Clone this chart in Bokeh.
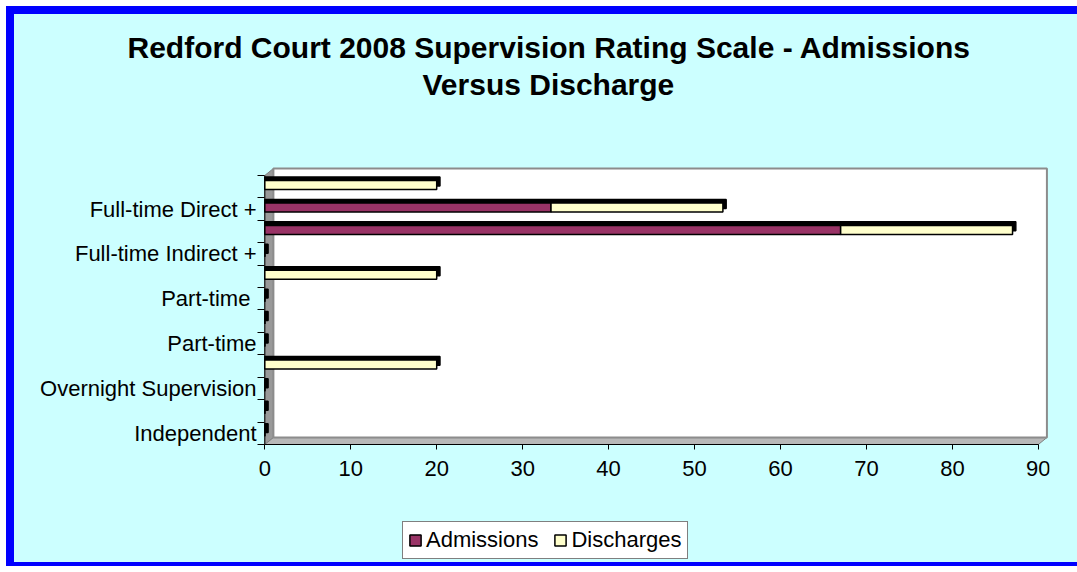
from bokeh.plotting import figure
from bokeh.models import Range1d, FixedTicker, Legend, LegendItem, Title
from bokeh.embed import file_html
from bokeh.resources import INLINE

# ---------------- data ----------------
title_lines = ["Redford Court 2008 Supervision Rating Scale - Admissions", "Versus Discharge"]
# rows from top to bottom (every other label is hidden in the original chart)
row_labels = ["", "Full-time Direct +", "", "Full-time Indirect +", "", "Part-time ",
              "", "Part-time", "", "Overnight Supervision", "", "Independent"]
admissions = [0, 33.3, 67, 0, 0, 0, 0, 0, 0, 0, 0, 0]
discharges = [20, 20, 20, 0, 20, 0, 0, 0, 20, 0, 0, 0]
series_names = ["Admissions", "Discharges"]
series_colors = ["#993366", "#FFFFCC"]
x_ticks = [0, 10, 20, 30, 40, 50, 60, 70, 80, 90]

# ---------------- styling constants ----------------
FONT = "Liberation Sans"
CYAN = "#CCFFFF"
W, H = 1077, 566
FRAME_LEFT, FRAME_RIGHT_PAD, FRAME_TOP = 257, 28, 103
X_START = -0.85
AXIS_Y_PX = 444                     # canvas y of the category-axis floor
ROW_PX = 22.42
n = len(row_labels)
ypos = [n - i for i in range(n)]
y_floor = 0.5
y_top = n + 0.5
xmax = x_ticks[-1]
wall_dx, wall_dy = 1.0, 0.31        # depth of the 3-D walls (data units)
bar_dx, bar_dy = 0.38, 0.16         # depth of the 3-D bars
bar_yoff, bar_h = 0.07, 0.40
y_start = y_floor - (H - AXIS_Y_PX) / ROW_PX
y_end = y_floor + (AXIS_Y_PX - FRAME_TOP) / ROW_PX

p = figure(width=W, height=H, output_backend="svg", toolbar_location=None, title=None,
           x_axis_location="above",
           x_range=Range1d(X_START, xmax + 1.3), y_range=Range1d(y_start, y_end),
           min_border_left=FRAME_LEFT, min_border_right=FRAME_RIGHT_PAD,
           min_border_top=FRAME_TOP, min_border_bottom=0)
p.background_fill_color = CYAN
p.background_fill_alpha = 0.0
p.border_fill_color = CYAN
p.border_fill_alpha = 0.0
p.outline_line_color = None
p.xgrid.visible = False
p.ygrid.visible = False
p.styles = {"background-color": CYAN,
            "box-shadow": "inset 6px 6px 0 0 #FFFFFF, inset 14px 14px 0 0 #0000FF, "
                          "inset 0 -4px 0 0 #0000FF"}

# ---------------- 3-D walls ----------------
p.patch([0, 0, wall_dx, wall_dx], [y_floor, y_top, y_top + wall_dy, y_floor + wall_dy],
        fill_color="#999999", line_color="#808080", line_width=1)
p.patch([0, xmax, xmax + wall_dx, wall_dx], [y_floor, y_floor, y_floor + wall_dy, y_floor + wall_dy],
        fill_color="#B8B8B8", line_color="#808080", line_width=1)
p.quad(left=[wall_dx], right=[xmax + wall_dx], bottom=[y_floor + wall_dy], top=[y_top + wall_dy],
       fill_color="white", line_color="#8C8C8C", line_width=2)
# category-axis line along the front edge of the left wall
p.segment(x0=[0], y0=[y_floor], x1=[0], y1=[y_top], line_color="black", line_width=1)

# ---------------- bars ----------------
totals = [a + d for a, d in zip(admissions, discharges)]
yb = [y + bar_yoff for y in ypos]
p.hbar(y=[y + bar_dy for y in yb], left=[0] * n, right=[t + bar_dx for t in totals],
       height=bar_h, fill_color="black", line_color="black", line_width=1.5)
r_adm = p.hbar(y=yb, left=[0] * n, right=admissions, height=bar_h,
               fill_color=series_colors[0], line_color="black", line_width=1.5)
r_dis = p.hbar(y=yb, left=admissions, right=totals, height=bar_h,
               fill_color=series_colors[1], line_color="black", line_width=1.5)

# ---------------- axes ----------------
xa = p.xaxis[0]
xa.fixed_location = y_floor
xa.ticker = FixedTicker(ticks=x_ticks, minor_ticks=[])
xa.bounds = (0, xmax)
xa.axis_line_color = "black"
xa.major_tick_out = 0
xa.major_tick_in = 5
xa.major_label_standoff = -31
xa.major_label_text_font = FONT
xa.major_label_text_font_size = "22px"
xa.major_label_text_color = "black"

ya = p.yaxis[0]
ya.ticker = FixedTicker(ticks=ypos, minor_ticks=[i + 0.5 for i in range(n + 1)])
ya.major_label_overrides = {ypos[i]: row_labels[i] for i in range(n)}
ya.bounds = (y_floor, y_top)
ya.axis_line_color = None
ya.major_tick_line_color = None
ya.major_tick_out = 0
ya.major_tick_in = 0
ya.minor_tick_line_color = "black"
ya.minor_tick_out = 0
ya.minor_tick_in = 7
ya.major_label_standoff = 1
ya.major_label_text_font = FONT
ya.major_label_text_font_size = "22px"
ya.major_label_text_color = "black"

# ---------------- title (two centred lines) ----------------
title_offsets = [-130, 165]
title_standoffs = [-2, 6]
for i in (1, 0):
    t = Title(text=title_lines[i], align="left", offset=title_offsets[i],
              standoff=title_standoffs[i], text_font=FONT, text_font_size="30px",
              text_font_style="bold", text_color="black")
    p.add_layout(t, "above")

# ---------------- legend ----------------
legend = Legend(items=[LegendItem(label=series_names[0], renderers=[r_adm]),
                       LegendItem(label=series_names[1], renderers=[r_dis])],
                location=(145, 7), orientation="horizontal")
legend.border_line_color = "black"
legend.border_line_width = 1
legend.background_fill_color = "white"
legend.background_fill_alpha = 1.0
legend.padding = 5
legend.spacing = 15
legend.margin = 0
legend.label_standoff = 4
legend.glyph_width = 14
legend.glyph_height = 14
legend.label_text_font = FONT
legend.label_text_font_size = "22px"
legend.label_text_line_height = 1.0
legend.label_text_color = "black"
legend.label_height = 21
p.add_layout(legend)

open("out.html", "w").write(file_html(p, INLINE))
